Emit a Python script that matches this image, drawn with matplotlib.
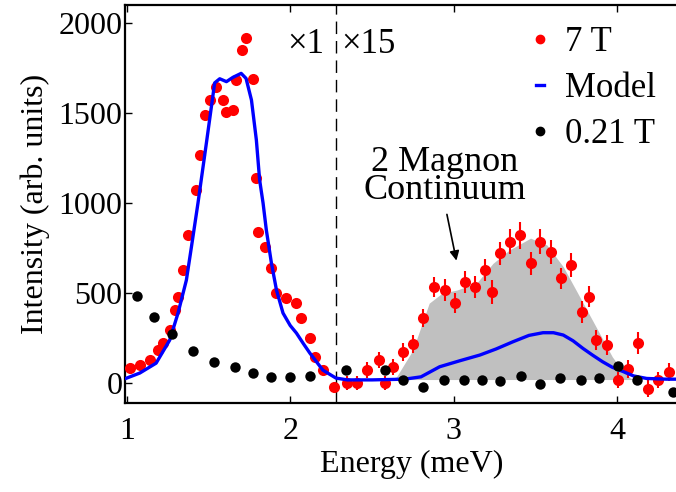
import matplotlib
matplotlib.use("Agg")
import matplotlib.pyplot as plt
import numpy as np

plt.rcParams['font.family'] = ['Liberation Serif', 'DejaVu Serif']

# 7 T data, low energy peak (x1)
e_peak = [1.02, 1.08, 1.14, 1.19, 1.222, 1.263, 1.294, 1.314, 1.344, 1.375, 1.422,
          1.446, 1.477, 1.508, 1.549, 1.588, 1.61, 1.65, 1.671, 1.708, 1.728, 1.773,
          1.793, 1.803, 1.844, 1.885, 1.916, 1.977, 2.038, 2.068, 2.119, 2.15, 2.2, 2.27]
i_peak = [83, 100, 128, 183, 222, 294, 406, 480, 628, 822, 1072,
          1267, 1489, 1572, 1644, 1572, 1507, 1517, 1683, 1850, 1917, 1689,
          1139, 841, 757, 639, 500, 472, 444, 361, 250, 144, 72, -22]

# 7 T data, continuum region (x15)
e_cont = [2.35, 2.41, 2.47, 2.54, 2.58, 2.63, 2.69, 2.75, 2.81, 2.88, 2.945,
          3.006, 3.067, 3.128, 3.19, 3.236, 3.285, 3.346, 3.407, 3.471, 3.53,
          3.597, 3.658, 3.72, 3.787, 3.828, 3.873, 3.938, 4.005, 4.067, 4.128,
          4.188, 4.25, 4.317]
i_cont = [0, 0, 72, 128, 0, 91, 174, 220, 359, 535, 517,
          443, 563, 535, 628, 507, 720, 785, 822, 665, 785,
          729, 582, 655, 396, 480, 239, 211, 17, 81, 224,
          -30, 17, 63]
err_cont = [40, 40, 45, 45, 40, 45, 50, 50, 50, 55, 60,
            55, 60, 60, 60, 65, 65, 70, 75, 65, 70,
            65, 60, 65, 60, 60, 55, 55, 45, 50, 60,
            45, 45, 50]

# 0.21 T data
e_low = [1.06, 1.17, 1.28, 1.406, 1.532, 1.66, 1.773, 1.88, 2.0, 2.12,
         2.34, 2.58, 2.69, 2.81, 2.94, 3.06, 3.175, 3.286, 3.41, 3.53,
         3.65, 3.78, 3.89, 4.005, 4.12, 4.34]
i_low = [485, 368, 272, 180, 119, 87, 54, 35, 35, 39,
         72, 72, 17, -24, 20, 20, 17, 11, 41, -6,
         30, 20, 30, 94, 17, -48]

# model curve
e_model = [0.99, 1.0, 1.08, 1.18, 1.263, 1.314, 1.365, 1.396, 1.436, 1.49, 1.538,
           1.569, 1.61, 1.65, 1.70, 1.73, 1.763, 1.793, 1.813, 1.834, 1.854,
           1.885, 1.916, 1.956, 2.0, 2.038, 2.08, 2.12, 2.2, 2.28, 2.35, 2.5,
           2.7, 2.8, 2.914, 3.04, 3.16, 3.26, 3.363, 3.46, 3.546, 3.61, 3.67,
           3.73, 3.79, 3.85, 3.91, 3.97, 4.04, 4.1, 4.18, 4.3, 4.5]
i_model = [25, 28, 56, 111, 239, 389, 572, 757, 1000, 1350, 1667,
           1690, 1674, 1698, 1720, 1692, 1572, 1350, 1128, 1000, 850,
           667, 517, 389, 320, 278, 220, 167, 72, 28, 18, 18,
           22, 35, 91, 125, 156, 190, 230, 265, 280, 280, 267,
           235, 193, 155, 119, 88, 63, 40, 26, 22, 22]

# shaded two-magnon continuum
e_fill = [2.6, 2.65, 2.75, 2.85, 2.93, 3.02, 3.14, 3.24, 3.34, 3.47, 3.57,
          3.67, 3.77, 3.87, 3.97, 4.03, 4.08, 4.12]
i_fill = [20, 35, 183, 444, 500, 517, 555, 665, 739, 805, 767,
          646, 480, 313, 146, 72, 28, 20]

fig = plt.figure(figsize=(6.76, 4.92), dpi=100)
ax = fig.add_axes([0.185, 0.181, 0.849, 0.809])

ax.fill_between(e_fill, 20, i_fill, color='#c0c0c0', lw=0, zorder=1)
ax.plot(e_peak, i_peak, 'o', color='red', ms=8, mec='none', zorder=3)
ax.errorbar(e_cont, i_cont, yerr=err_cont, fmt='o', color='red', ms=8,
            mec='none', elinewidth=1.5, capsize=0, zorder=3)
ax.plot(e_model, i_model, '-', color='blue', lw=2.4, zorder=4)
ax.plot(e_low, i_low, 'o', color='black', ms=7.5, mec='none', zorder=5)

ax.axvline(2.28, color='black', lw=1, ls=(0, (9, 5)), zorder=2)
ax.text(2.21, 1880, '\u00d71', ha='right', va='center', fontsize=25)
ax.text(2.315, 1880, '\u00d715', ha='left', va='center', fontsize=25)
ax.text(2.945, 1150, '2 Magnon\nContinuum', ha='center', va='center',
        fontsize=26, linespacing=0.8)
ax.annotate('', xy=(3.02, 665), xytext=(2.955, 952),
            arrowprops=dict(arrowstyle='-|>', color='black', lw=1.2,
                            mutation_scale=14))

# legend built from proxy handles
h1, = ax.plot([], [], 'o', color='red', ms=6)
h2, = ax.plot([], [], '-', color='blue', lw=2.4)
h3, = ax.plot([], [], 'o', color='black', ms=6)
ax.legend([h1, h2, h3], ['7 T', 'Model', '0.21 T'], loc='upper left',
          bbox_to_anchor=(0.7155, 0.947), frameon=False, fontsize=25,
          handlelength=0.25, handletextpad=0.6, labelspacing=0.38,
          borderaxespad=0, borderpad=0)

ax.set_xlim(0.99, 4.5)
ax.set_ylim(-110, 2100)
ax.set_xticks([1, 2, 3, 4])
ax.set_yticks([0, 500, 1000, 1500, 2000])
ax.tick_params(direction='in', length=5, width=1, labelsize=23,
               top=True, right=True)
ax.tick_params(axis='y', pad=2)
ax.tick_params(axis='x', pad=10)
for s in ax.spines.values():
    s.set_linewidth(1.6)
ax.set_xlabel('Energy (meV)', fontsize=23, labelpad=3)
ax.set_ylabel('Intensity (arb. units)', fontsize=23, labelpad=6)

fig.savefig('out.png', dpi=100)
